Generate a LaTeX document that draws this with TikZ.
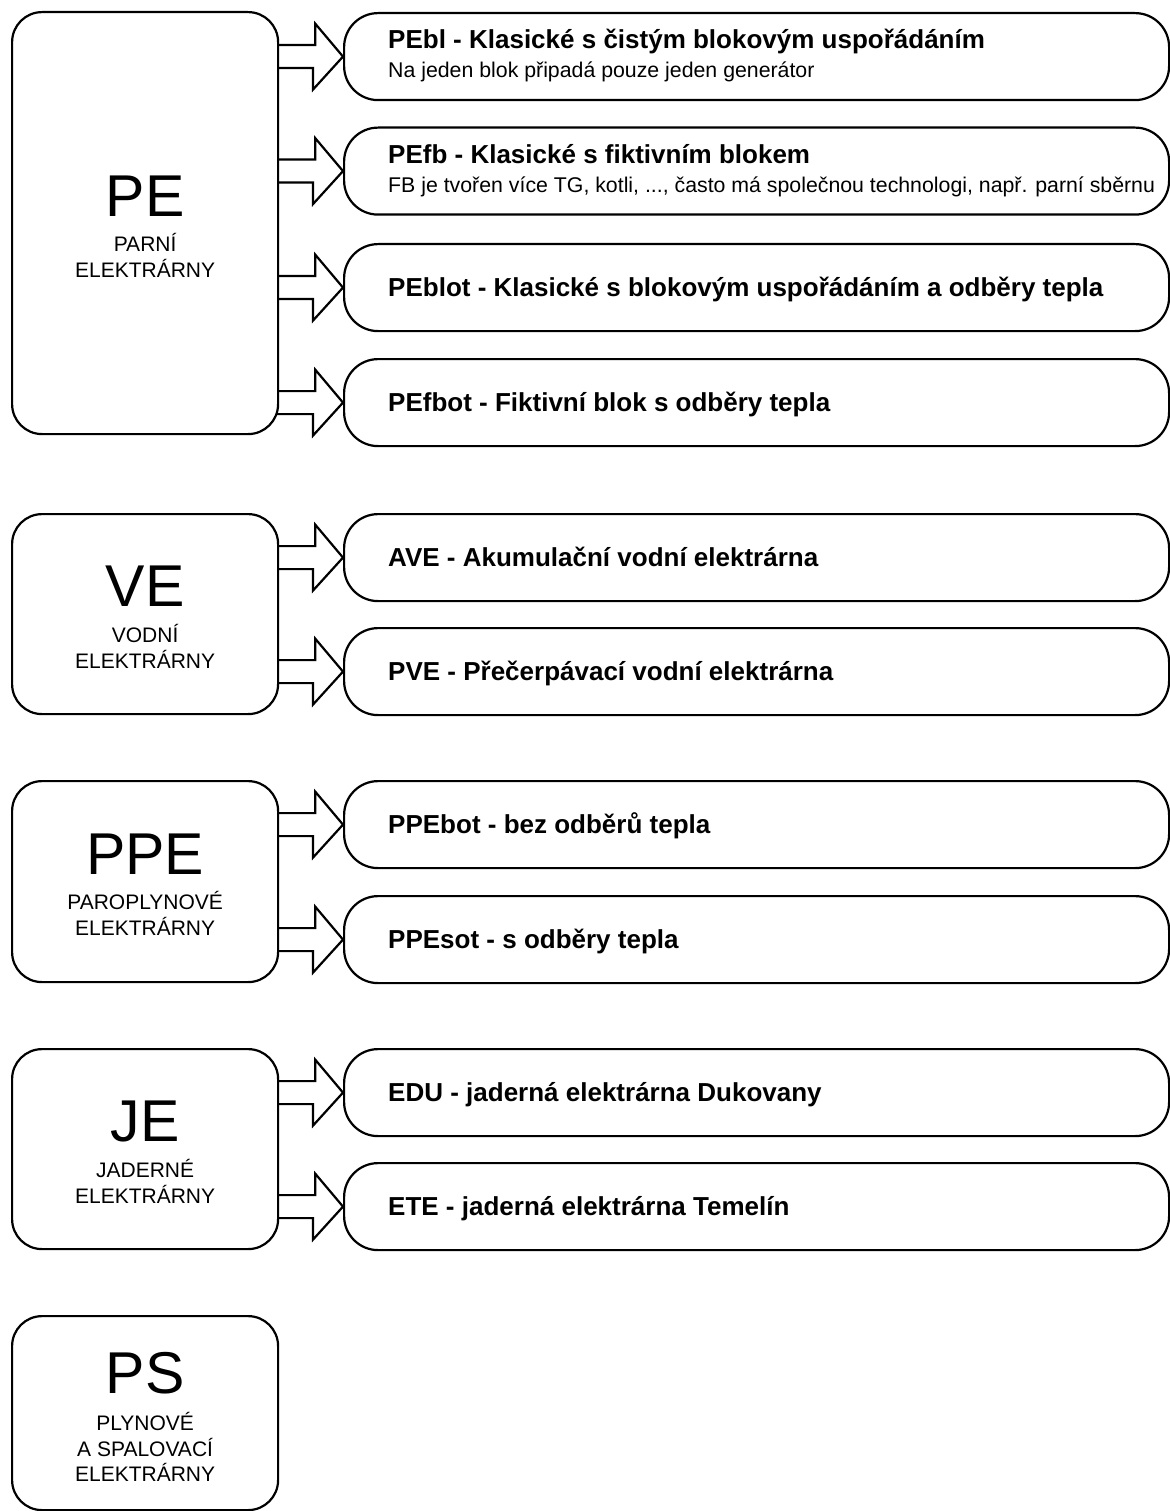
\documentclass[tikz,border=0pt]{standalone}
\usepackage{fontspec}
\setmainfont{Liberation Sans}
\usetikzlibrary{calc}
\tikzset{
 catbox/.style={draw, line width=2.2pt, rounded corners=30pt, minimum width=266pt, anchor=north west, inner sep=0pt},
 subbox/.style={draw, line width=2.2pt, rounded corners=34pt, minimum width=825pt, minimum height=87pt, anchor=north west, inner sep=0pt},
 bigl/.style={font=\fontsize{59}{59}\selectfont, anchor=base, inner sep=0pt},
 smalll/.style={font=\fontsize{21}{21}\selectfont, anchor=base, inner sep=0pt},
 ttl/.style={font=\fontsize{26}{26}\selectfont\bfseries, anchor=base west, inner sep=0pt},
 subt/.style={font=\fontsize{21.3}{21.3}\selectfont, anchor=base west, inner sep=0pt},
 barrow/.style={line width=2.2pt, line join=miter},
}
\newcommand\myarrow[2]{\draw[barrow] (#1.east |- #2.west) ++(0,-11.5) -- ++(36,0) -- ++(0,-21.5) -- (#2.west) -- ++(-30,33) -- ++(0,-21.5) -- ++(-36,0);}
\begin{document}
\begin{tikzpicture}[x=1pt,y=-1pt]
\useasboundingbox (0,0) rectangle (1169,1511);
% PE group
\node[catbox, minimum height=422pt] (pe) at (11,11) {};
\node[bigl] (pel) at ($(pe.center)+(0,-7)$) {PE};
\node[smalll] (pes1) at ($(pe.center)+(0,28)$) {PARNÍ};
\node[smalll] (pes2) at ($(pe.center)+(0,54)$) {ELEKTRÁRNY};
\node[subbox] (b1) at (343,12) {};
\node[subbox] (b2) at (343,126.5) {};
\node[subbox] (b3) at (343,243) {};
\node[subbox] (b4) at (343,358) {};
\node[ttl] (t1) at ($(b1.north west)+(45,37)$) {PEbl - Klasické s čistým blokovým uspořádáním};
\node[subt] (s1) at ($(b1.north west)+(45,66)$) {Na jeden blok připadá pouze jeden generátor};
\node[ttl] (t2) at ($(b2.north west)+(45,37)$) {PEfb - Klasické s fiktivním blokem};
\node[subt] (s2) at ($(b2.north west)+(45,66)$) {FB je tvořen více TG, kotli, ..., často má společnou technologi, např. parní sběrnu};
\node[ttl] (t3) at ($(b3.west)+(45,8.5)$) {PEblot - Klasické s blokovým uspořádáním a odběry tepla};
\node[ttl] (t4) at ($(b4.west)+(45,8.5)$) {PEfbot - Fiktivní blok s odběry tepla};
\myarrow{pe}{b1}
\myarrow{pe}{b2}
\myarrow{pe}{b3}
\myarrow{pe}{b4}
% VE group
\node[catbox, minimum height=200pt] (ve) at (11,513) {};
\node[bigl] (vel) at ($(ve.center)+(0,-7.5)$) {VE};
\node[smalll] (ves1) at ($(ve.center)+(0,28)$) {VODNÍ};
\node[smalll] (ves2) at ($(ve.center)+(0,54)$) {ELEKTRÁRNY};
\node[subbox] (b5) at (343,513) {};
\node[subbox] (b6) at (343,627) {};
\node[ttl] (t5) at ($(b5.west)+(45,8.5)$) {AVE - Akumulační vodní elektrárna};
\node[ttl] (t6) at ($(b6.west)+(45,8.5)$) {PVE - Přečerpávací vodní elektrárna};
\myarrow{ve}{b5}
\myarrow{ve}{b6}
% PPE group
\node[catbox, minimum height=201pt] (ppe) at (11,780) {};
\node[bigl] (ppel) at ($(ppe.center)+(0,-7.5)$) {PPE};
\node[smalll] (ppes1) at ($(ppe.center)+(0,28)$) {PAROPLYNOVÉ};
\node[smalll] (ppes2) at ($(ppe.center)+(0,54)$) {ELEKTRÁRNY};
\node[subbox] (b7) at (343,780) {};
\node[subbox] (b8) at (343,895) {};
\node[ttl] (t7) at ($(b7.west)+(45,8.5)$) {PPEbot - bez odběrů tepla};
\node[ttl] (t8) at ($(b8.west)+(45,8.5)$) {PPEsot - s odběry tepla};
\myarrow{ppe}{b7}
\myarrow{ppe}{b8}
% JE group
\node[catbox, minimum height=200pt] (je) at (11,1048) {};
\node[bigl] (jel) at ($(je.center)+(0,-7.5)$) {JE};
\node[smalll] (jes1) at ($(je.center)+(0,28)$) {JADERNÉ};
\node[smalll] (jes2) at ($(je.center)+(0,54)$) {ELEKTRÁRNY};
\node[subbox] (b9) at (343,1048) {};
\node[subbox] (b10) at (343,1162) {};
\node[ttl] (t9) at ($(b9.west)+(45,8.5)$) {EDU - jaderná elektrárna Dukovany};
\node[ttl] (t10) at ($(b10.west)+(45,8.5)$) {ETE - jaderná elektrárna Temelín};
\myarrow{je}{b9}
\myarrow{je}{b10}
% PS group
\node[catbox, minimum height=194pt] (ps) at (11,1315) {};
\node[bigl] (psl) at ($(ps.north)+(0,78)$) {PS};
\node[smalll] (pss1) at ($(ps.north)+(0,115)$) {PLYNOVÉ};
\node[smalll] (pss2) at ($(ps.north)+(0,141)$) {A SPALOVACÍ};
\node[smalll] (pss3) at ($(ps.north)+(0,166)$) {ELEKTRÁRNY};
\end{tikzpicture}
\end{document}
